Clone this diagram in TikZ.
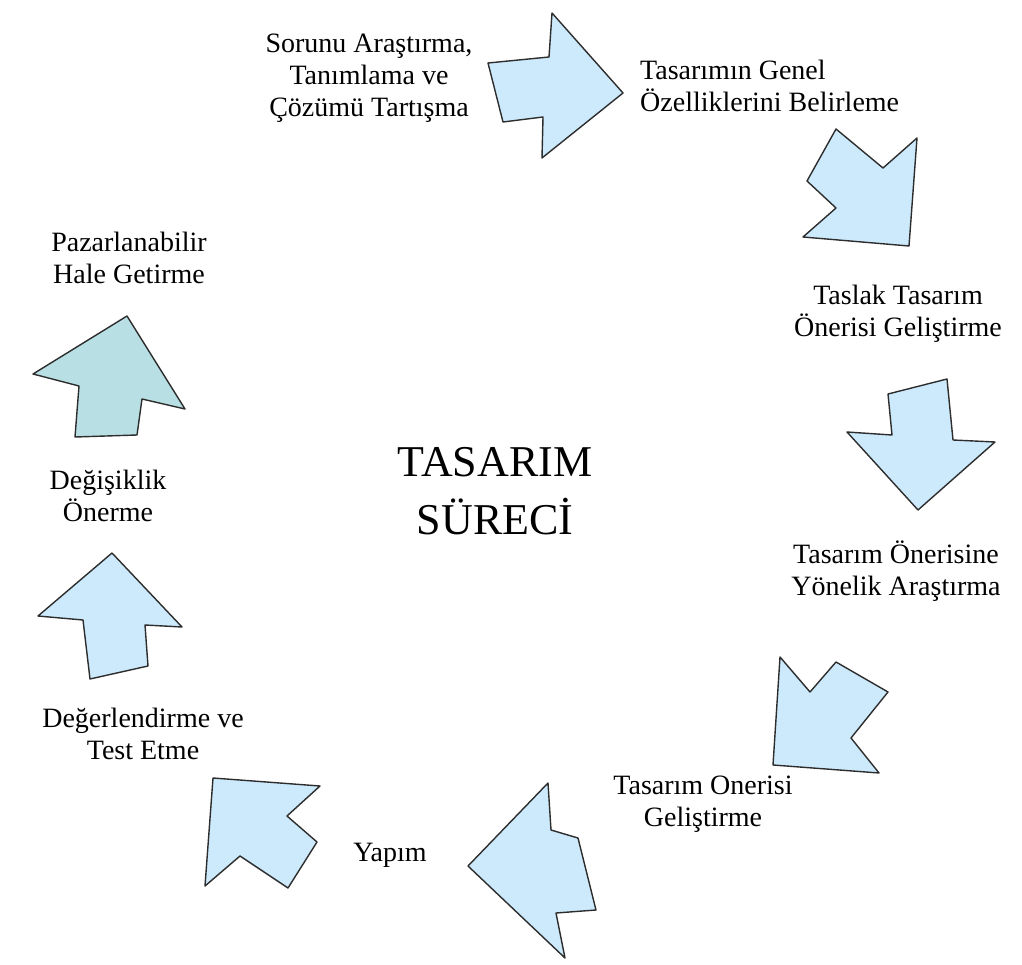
\documentclass[tikz,border=0pt]{standalone}
\usepackage{fontspec}
\setmainfont{Liberation Serif}
\definecolor{arrowblue}{RGB}{204,234,252}
\definecolor{arrowgreen}{RGB}{184,224,228}
\definecolor{edgegray}{RGB}{45,45,45}
\begin{document}
\begin{tikzpicture}[x=1pt,y=-1pt,
  blk/.style={draw=edgegray,line width=1.4pt,line join=round,fill=arrowblue},
  grn/.style={blk,fill=arrowgreen},
  lbl/.style={font=\fontsize{28}{32}\selectfont,align=center,inner sep=0pt},
  ttl/.style={font=\fontsize{44}{58}\selectfont,align=center,inner sep=0pt}]
\useasboundingbox (0,0) rectangle (1022,965);
% arrows
\draw[blk] (488,63) -- (549,57) -- (552,13) -- (623,93) -- (542,158) -- (543,117) -- (503,122) -- cycle;
\draw[blk] (836,129) -- (883,168) -- (917,138) -- (909,246) -- (803,237) -- (836,208) -- (807,181) -- cycle;
\draw[blk] (888,394) -- (947,379) -- (953,440) -- (995,442) -- (918,510) -- (847,432) -- (892,435) -- cycle;
\draw[blk] (780,657) -- (810,692) -- (836,662) -- (888,692) -- (851,738) -- (879,773) -- (773,765) -- cycle;
\draw[blk] (468,866) -- (548,783) -- (551,830) -- (578,838) -- (596,910) -- (556,913) -- (565,958) -- cycle;
\draw[blk] (213,778) -- (320,786) -- (287,816) -- (317,842) -- (288,888) -- (240,856) -- (205,886) -- cycle;
\draw[blk] (112,553) -- (182,627) -- (145,625) -- (148,666) -- (90,679) -- (83,620) -- (38,616) -- cycle;
\draw[grn] (127,316) -- (185,409) -- (142,399) -- (137,435) -- (75,437) -- (79,386) -- (33,374) -- cycle;
% labels
\node[lbl] (t1) at (369,78) {Sorunu Araştırma,\\Tanımlama ve\\Çözümü Tartışma};
\node[lbl,align=left,anchor=west] (t2) at (640,86) {Tasarımın Genel\\Özelliklerini Belirleme};
\node[lbl] (t3) at (898,314) {Taslak Tasarım\\Önerisi Geliştirme};
\node[lbl] (t4) at (896,571) {Tasarım Önerisine\\Yönelik Araştırma};
\node[lbl] (t5) at (703,804) {Tasarım Onerisi\\Geliştirme};
\node[lbl] (t6) at (390,855) {Yapım};
\node[lbl] (t7) at (143,734) {Değerlendirme ve\\Test Etme};
\node[lbl] (t8) at (108,496) {Değişiklik\\Önerme};
\node[lbl] (t9) at (129,258) {Pazarlanabilir\\Hale Getirme};
\node[ttl] (title) at (495,491) {TASARIM\\SÜRECİ};
\end{tikzpicture}
\end{document}
